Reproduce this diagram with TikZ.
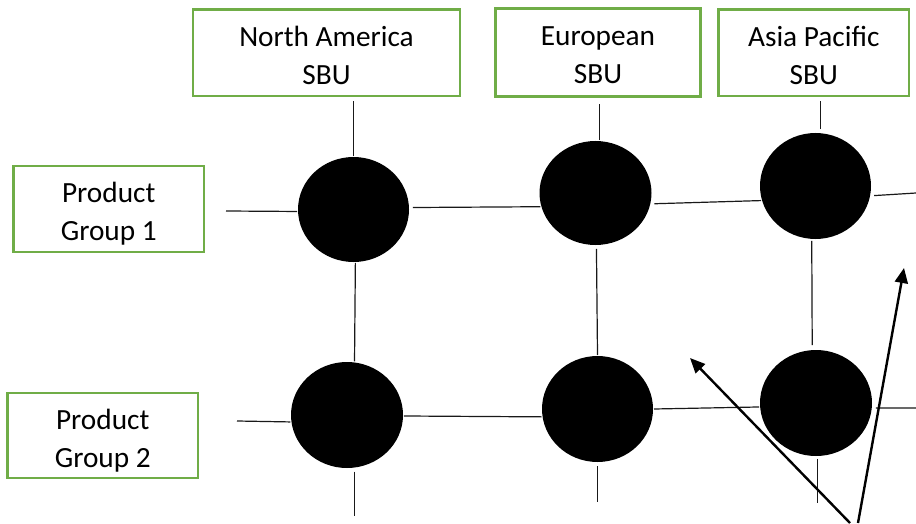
\documentclass[tikz,border=0pt]{standalone}
\usepackage{fontspec}
\setmainfont{Carlito}
\usetikzlibrary{shapes.geometric,arrows.meta}

\definecolor{boxgreen}{HTML}{70AD47}

\tikzset{
  unitbox/.style 2 args={draw=boxgreen, line width=2.6pt, rectangle,
    minimum width=#1, minimum height=#2, inner sep=0pt, align=center,
    font=\fontsize{29.3}{38}\selectfont, text=black},
  hub/.style 2 args={ellipse, fill=black, draw=none, inner sep=0pt,
    outer sep=1pt, minimum width=#1, minimum height=#2},
  link/.style={draw=black!90, line width=1.2pt},
  pointer/.style={draw=black, line width=2.4pt,
    -{Triangle[length=15pt,width=13pt]}}
}
% first line gets a tall strut, last line a deep one, to place the text block
\newcommand{\boxtext}[2]{\rule{0pt}{33pt}#1\\#2\rule[-8pt]{0pt}{8pt}}

\begin{document}
\begin{tikzpicture}[x=1pt,y=-1pt]
  \useasboundingbox (0,0) rectangle (916,524);

  % business units along the top
  \node[unitbox={267pt}{86.5pt}]   (na) at (326.5,52.75) {\boxtext{North America}{SBU}};
  \node[unitbox={205pt}{88pt}]     (eu) at (598,52.5) {\boxtext{European}{SBU}};
  \node[unitbox={190.5pt}{86.5pt}] (ap) at (813.75,52.75) {\boxtext{Asia Pacific}{SBU}};

  % product groups down the side
  \node[unitbox={190.5pt}{86pt}] (pg1) at (108.75,209) {\boxtext{Product}{Group 1}};
  \node[unitbox={190.5pt}{85pt}] (pg2) at (102.75,435.5) {\boxtext{Product}{Group 2}};

  % matrix intersections
  \node[hub={111pt}{105pt}] (c11) at (353.5,209.5) {};
  \node[hub={112pt}{104pt}] (c12) at (595.5,193) {};
  \node[hub={111pt}{106pt}] (c13) at (815.5,186) {};
  \node[hub={112pt}{106pt}] (c21) at (347,415) {};
  \node[hub={111pt}{106pt}] (c22) at (597.5,409) {};
  \node[hub={112pt}{106pt}] (c23) at (816,403) {};

  % free ends of the stub lines
  \coordinate (s1) at (226,211);
  \coordinate (s2) at (237,421);
  \coordinate (e1) at (916,193);
  \coordinate (e2) at (916,408);
  \coordinate (b1) at (355,516);
  \coordinate (b2) at (596,502);
  \coordinate (b3) at (818,503);

  % columns
  \draw[link, shorten >=4pt] (c11.north) -- (c11.north |- na.south);
  \draw[link, shorten >=6pt] (c12.86) -- (c12.86 |- eu.south);
  \draw[link, shorten <=3pt, shorten >=4pt] (c13.85) -- (c13.85 |- ap.south);
  \draw[link] (c11.272) -- (c21.82);
  \draw[link, shorten <=3pt] (c12.271) -- (c22.90);
  \draw[link, shorten <=1pt, shorten >=4pt] (c13.266) -- (c23.94);
  \draw[link, shorten <=3pt] (c21.278) -- (c21.278 |- b1);
  \draw[link, shorten <=3pt] (c22.270) -- (c22.270 |- b2);
  \draw[link, shorten <=2pt] (c23.272) -- (c23.272 |- b3);

  % rows
  \draw[link] (s1) -- (c11.182);
  \draw[link, shorten <=3pt] (c11.2) -- (c12.194);
  \draw[link, shorten <=3pt] (c12.349) -- (c13.195);
  \draw[link, shorten <=3pt] (c13.350) -- (e1);
  \draw[link] (s2) -- (c21.187);
  \draw[link] (c21.359) -- (c22.188);
  \draw[link] (c22.east) -- (c23.184);
  \draw[link, shorten <=3pt] (c23.355) -- (e2);

  % pointers
  \coordinate (t1) at (850,523);
  \coordinate (t2) at (858,523);
  \coordinate (h1) at (690,358);
  \coordinate (h2) at (904,268);
  \draw[pointer] (t1) -- (h1);
  \draw[pointer] (t2) -- (h2);
\end{tikzpicture}
\end{document}
